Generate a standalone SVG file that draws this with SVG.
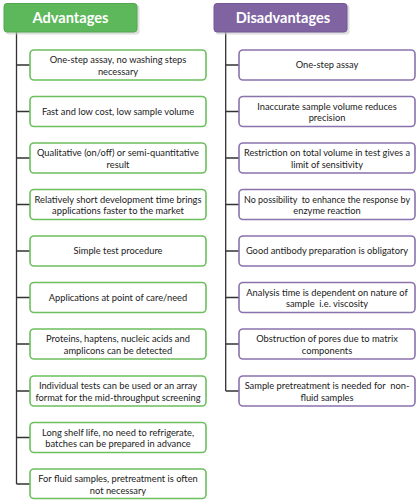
<svg xmlns="http://www.w3.org/2000/svg" width="417" height="500" viewBox="0 0 417 500">
<defs>
<style>
.bg{fill:#ffffff}
.hdr-a{fill:#5cb85a;stroke:#52a84f;stroke-width:1}
.hdr-d{fill:#8064a2;stroke:#735893;stroke-width:1}
.shadow{fill:#c8c8c8;opacity:0.6}
.ht{font-family:Lato,"Liberation Sans",sans-serif;font-weight:bold;font-size:14.6px;fill:#ffffff;text-anchor:middle}
.box-a{fill:#ffffff;stroke:#6cbf5e;stroke-width:1.6}
.box-d{fill:#ffffff;stroke:#8a72ad;stroke-width:1.6}
.t{font-family:Lato,"Liberation Sans",sans-serif;font-size:9.3px;fill:#1a1a1a;text-anchor:middle}
.ln{fill:none;stroke:#333333;stroke-width:1.3}
</style>
</defs>
<rect class="bg" x="0" y="0" width="417" height="500"/>
<g id="connectors">
<path class="ln" d="M16.5 32 V484 M16.5 65 H30 M16.5 111.5 H30 M16.5 158 H30 M16.5 204.5 H30 M16.5 251 H30 M16.5 297.5 H30 M16.5 344 H30 M16.5 391 H30 M16.5 437.5 H30 M16.5 484 H30"/>
<path class="ln" d="M225.7 32 V391 M225.7 65 H239 M225.7 111.5 H239 M225.7 158 H239 M225.7 204.5 H239 M225.7 251 H239 M225.7 297.5 H239 M225.7 344 H239 M225.7 391 H239"/>
</g>
<g id="adv-header">
<rect class="shadow" x="5.5" y="5" width="134" height="29.5" rx="3"/>
<rect class="hdr-a" x="4" y="3.5" width="133" height="28.5" rx="3"/>
<text class="ht" x="70.5" y="23">Advantages</text>
</g>
<g id="dis-header">
<rect class="shadow" x="215.5" y="5" width="134" height="29.5" rx="3"/>
<rect class="hdr-d" x="214" y="3.5" width="133" height="28.5" rx="3"/>
<text class="ht" x="283" y="23">Disadvantages</text>
</g>
<g id="a1"><rect class="box-a" x="30" y="50" width="176" height="30" rx="4"/><text class="t" x="118" y="63">One-step assay, no washing steps</text><text class="t" x="118" y="74.5">necessary</text></g>
<g id="a2"><rect class="box-a" x="30" y="96.5" width="176" height="30" rx="4"/><text class="t" x="118" y="114.8">Fast and low cost, low sample volume</text></g>
<g id="a3"><rect class="box-a" x="30" y="143" width="176" height="30" rx="4"/><text class="t" x="118" y="156">Qualitative (on/off) or semi-quantitative</text><text class="t" x="118" y="167.5">result</text></g>
<g id="a4"><rect class="box-a" x="30" y="189.5" width="176" height="30" rx="4"/><text class="t" x="118" y="202.5" textLength="167" lengthAdjust="spacingAndGlyphs">Relatively short development time brings</text><text class="t" x="118" y="214">applications faster to the market</text></g>
<g id="a5"><rect class="box-a" x="30" y="236" width="176" height="30" rx="4"/><text class="t" x="118" y="254.3">Simple test procedure</text></g>
<g id="a6"><rect class="box-a" x="30" y="282.5" width="176" height="30" rx="4"/><text class="t" x="118" y="300.8">Applications at point of care/need</text></g>
<g id="a7"><rect class="box-a" x="30" y="329" width="176" height="30" rx="4"/><text class="t" x="118" y="342">Proteins, haptens, nucleic acids and</text><text class="t" x="118" y="353.5">amplicons can be detected</text></g>
<g id="a8"><rect class="box-a" x="30" y="376" width="176" height="30" rx="4"/><text class="t" x="118" y="389">Individual tests can be used or an array</text><text class="t" x="118" y="400.5">format for the mid-throughput screening</text></g>
<g id="a9"><rect class="box-a" x="30" y="422.5" width="176" height="30" rx="4"/><text class="t" x="118" y="435.5">Long shelf life, no need to refrigerate,</text><text class="t" x="118" y="447">batches can be prepared in advance</text></g>
<g id="a10"><rect class="box-a" x="30" y="469" width="176" height="29.5" rx="4"/><text class="t" x="118" y="482">For fluid samples, pretreatment is often</text><text class="t" x="118" y="493.5">not necessary</text></g>
<g id="d1"><rect class="box-d" x="239" y="50" width="176" height="30" rx="4"/><text class="t" x="327" y="68.3">One-step assay</text></g>
<g id="d2"><rect class="box-d" x="239" y="96.5" width="176" height="30" rx="4"/><text class="t" x="327" y="109.5">Inaccurate sample volume reduces</text><text class="t" x="327" y="121">precision</text></g>
<g id="d3"><rect class="box-d" x="239" y="143" width="176" height="30" rx="4"/><text class="t" x="327" y="156" textLength="166" lengthAdjust="spacingAndGlyphs">Restriction on total volume in test gives a</text><text class="t" x="327" y="167.5">limit of sensitivity</text></g>
<g id="d4"><rect class="box-d" x="239" y="189.5" width="176" height="30" rx="4"/><text class="t" x="327" y="202.5" xml:space="preserve" textLength="166" lengthAdjust="spacingAndGlyphs">No possibility  to enhance the response by</text><text class="t" x="327" y="214">enzyme reaction</text></g>
<g id="d5"><rect class="box-d" x="239" y="236" width="176" height="30" rx="4"/><text class="t" x="327" y="254.3">Good antibody preparation is obligatory</text></g>
<g id="d6"><rect class="box-d" x="239" y="282.5" width="176" height="30" rx="4"/><text class="t" x="327" y="295.5">Analysis time is dependent on nature of</text><text class="t" x="327" y="307" xml:space="preserve">sample  i.e. viscosity</text></g>
<g id="d7"><rect class="box-d" x="239" y="329" width="176" height="30" rx="4"/><text class="t" x="327" y="342">Obstruction of pores due to matrix</text><text class="t" x="327" y="353.5">components</text></g>
<g id="d8"><rect class="box-d" x="239" y="376" width="176" height="30" rx="4"/><text class="t" x="327" y="389" xml:space="preserve">Sample pretreatment is needed for  non-</text><text class="t" x="327" y="400.5">fluid samples</text></g>
</svg>
